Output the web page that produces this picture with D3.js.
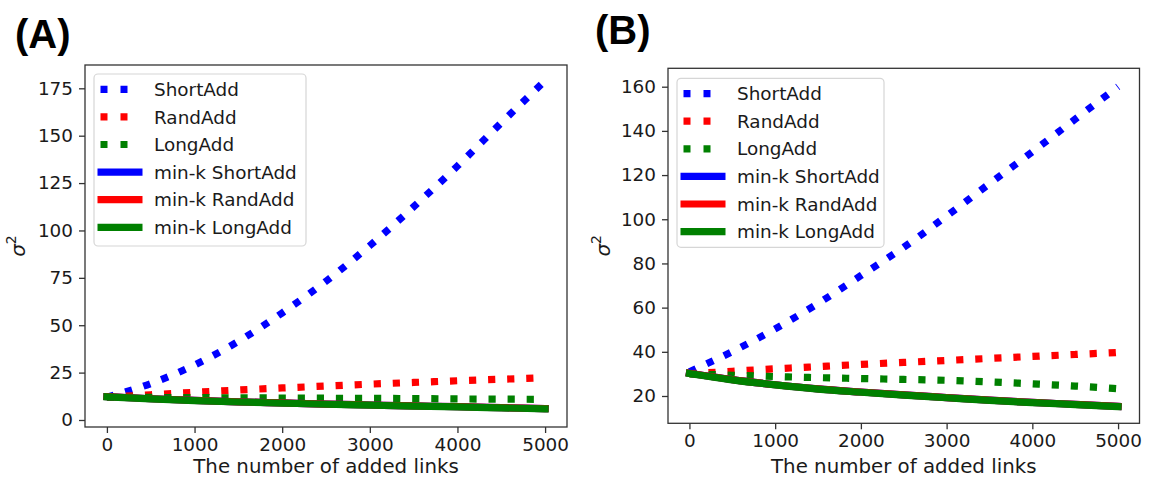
<!DOCTYPE html>
<html><head><meta charset="utf-8">
<script src="https://cdn.jsdelivr.net/npm/d3@7"></script>
<style>body{margin:0;background:#fff}svg{display:block}</style>
</head><body><svg id="c" width="1150" height="481"></svg>
<script>
// ---- data ----
const xValues = [0, 500, 1000, 1500, 2000, 2500, 3000, 3500, 4000, 4500, 5000];
const xTicks = [0, 1000, 2000, 3000, 4000, 5000];
const seriesNames = ["ShortAdd", "RandAdd", "LongAdd", "min-k ShortAdd", "min-k RandAdd", "min-k LongAdd"];
const seriesColors = ["#0000ff", "#ff0000", "#008000", "#0000ff", "#ff0000", "#008000"];
const seriesDotted = [true, true, true, false, false, false];

// Panel A
const aShortAdd = [12, 19.2, 29, 41.5, 56.5, 73.2, 92, 112.5, 134, 156.8, 179];
const aRandAdd = [12, 13.3, 14.6, 15.8, 16.9, 17.9, 18.9, 19.8, 20.7, 21.5, 22.3];
const aLongAdd = [12, 11.9, 11.8, 11.7, 11.6, 11.5, 11.4, 11.3, 11.1, 11.0, 10.9];
const aMinKShortAdd = [12.3, 11.2, 10.3, 9.6, 9.0, 8.4, 7.9, 7.4, 7.0, 6.5, 6.0];
const aMinKRandAdd = [12.3, 11.2, 10.3, 9.6, 9.0, 8.4, 7.9, 7.4, 7.0, 6.5, 6.0];
const aMinKLongAdd = [12.2, 11.1, 10.2, 9.5, 8.9, 8.3, 7.8, 7.3, 6.9, 6.4, 5.9];
const aYTicks = [0, 25, 50, 75, 100, 125, 150, 175];

// Panel B
const bShortAdd = [31, 40.1, 50.4, 61.9, 74.5, 87.3, 101.5, 116.1, 130.5, 145.3, 160];
const bRandAdd = [30, 31.2, 32.3, 33.3, 34.3, 35.2, 36.1, 37.0, 37.9, 38.8, 39.7];
const bLongAdd = [30, 29.4, 28.8, 28.3, 27.9, 27.5, 27.1, 26.4, 25.5, 24.5, 23.3];
const bMinKShortAdd = [30.3, 27.4, 25.1, 23.2, 21.8, 20.5, 19.3, 18.1, 17.1, 16.2, 15.3];
const bMinKRandAdd = [30.3, 27.4, 25.1, 23.2, 21.8, 20.5, 19.3, 18.1, 17.1, 16.2, 15.3];
const bMinKLongAdd = [30.2, 27.3, 25.0, 23.1, 21.7, 20.4, 19.2, 18.0, 17.0, 16.1, 15.2];
const bYTicks = [20, 40, 60, 80, 100, 120, 140, 160];

const xLabel = "The number of added links";

// ---- drawing ----
const svg = d3.select("#c");
svg.append("rect").attr("width", 1150).attr("height", 481).attr("fill", "#fff");

const panels = [
  { tag: "(A)", tagX: 15, tagY: 48, frame: { l: 85, r: 567, t: 65, b: 427 },
    yDomain: [-3.7, 187.3], yTicks: aYTicks, yLabelX: 18,
    series: [aShortAdd, aRandAdd, aLongAdd, aMinKShortAdd, aMinKRandAdd, aMinKLongAdd],
    legend: { x: 94, y: 74, w: 212, h: 172 } },
  { tag: "(B)", tagX: 595, tagY: 44, frame: { l: 668, r: 1139.5, t: 68.3, b: 423.3 },
    yDomain: [7.64, 168.33], yTicks: bYTicks, yLabelX: 603,
    series: [bShortAdd, bRandAdd, bLongAdd, bMinKShortAdd, bMinKRandAdd, bMinKLongAdd],
    legend: { x: 677, y: 78.3, w: 207, h: 169 } }
];

const tickFont = "DejaVu Sans, sans-serif";
const LW = 7.2;

panels.forEach((p, pi) => {
  const f = p.frame;
  const x = d3.scaleLinear().domain([-250, 5250]).range([f.l, f.r]);
  const y = d3.scaleLinear().domain(p.yDomain).range([f.b, f.t]);
  const g = svg.append("g");

  // panel tag
  g.append("text").attr("x", p.tagX).attr("y", p.tagY)
    .attr("font-family", "Liberation Sans, Arial, sans-serif").attr("font-weight", "bold")
    .attr("font-size", 40).attr("fill", "#000").text(p.tag);

  const clipId = "clip" + pi;
  svg.append("clipPath").attr("id", clipId).append("rect")
    .attr("x", f.l).attr("y", f.t).attr("width", f.r - f.l).attr("height", f.b - f.t);

  const line = d3.line().x((d, i) => x(xValues[i])).y(d => y(d)).curve(d3.curveMonotoneX);
  const lines = g.append("g").attr("clip-path", `url(#${clipId})`);
  p.series.forEach((s, i) => {
    const path = lines.append("path").datum(s).attr("d", line)
      .attr("fill", "none").attr("stroke", seriesColors[i]).attr("stroke-width", LW);
    if (seriesDotted[i]) {
      path.attr("stroke-dasharray", `${LW},${(LW * 1.65).toFixed(2)}`).attr("stroke-linecap", "butt");
    } else {
      path.attr("stroke-linecap", "square").attr("stroke-linejoin", "round");
    }
  });

  // axes
  const xAxis = d3.axisBottom(x).tickValues(xTicks).tickSize(6).tickPadding(5).tickFormat(d3.format("d"));
  const yAxis = d3.axisLeft(y).tickValues(p.yTicks).tickSize(6).tickPadding(6).tickFormat(d3.format("d"));
  const gx = g.append("g").attr("transform", `translate(0,${f.b})`).call(xAxis);
  const gy = g.append("g").attr("transform", `translate(${f.l},0)`).call(yAxis);
  [gx, gy].forEach(ax => {
    ax.select(".domain").remove();
    ax.selectAll("line").attr("stroke", "#333").attr("stroke-width", 1.3);
    ax.selectAll("text").attr("font-family", tickFont).attr("font-size", 18.4).attr("fill", "#1a1a1a");
  });

  // frame
  g.append("rect").attr("x", f.l).attr("y", f.t).attr("width", f.r - f.l).attr("height", f.b - f.t)
    .attr("fill", "none").attr("stroke", "#333").attr("stroke-width", 1.3);

  // x label
  g.append("text").attr("x", (f.l + f.r) / 2).attr("y", 473)
    .attr("text-anchor", "middle").attr("font-family", tickFont).attr("font-size", 19.8)
    .attr("fill", "#1a1a1a").text(xLabel);

  // y label sigma^2
  const cy = (f.t + f.b) / 2;
  const yl = g.append("text").attr("transform", `translate(${p.yLabelX + 7},${cy}) rotate(-90)`)
    .attr("text-anchor", "middle").attr("font-family", tickFont).attr("font-size", 20).attr("fill", "#1a1a1a");
  yl.append("tspan").attr("font-style", "italic").text("σ");
  yl.append("tspan").attr("font-size", 14).attr("dy", -9).text("2");

  // legend
  const L = p.legend;
  const lg = g.append("g");
  lg.append("rect").attr("x", L.x).attr("y", L.y).attr("width", L.w).attr("height", L.h)
    .attr("rx", 4).attr("fill", "#fff").attr("fill-opacity", 0.85).attr("stroke", "#d6d6d6").attr("stroke-width", 1.2);
  seriesNames.forEach((name, i) => {
    const ry = L.y + 15.3 + i * 27.6;
    if (seriesDotted[i]) {
      lg.append("line").attr("x1", L.x + 6.5).attr("x2", L.x + 33.5).attr("y1", ry).attr("y2", ry)
        .attr("stroke", seriesColors[i]).attr("stroke-width", LW).attr("stroke-dasharray", "7,13");
    } else {
      lg.append("line").attr("x1", L.x + 3.5).attr("x2", L.x + 48.5).attr("y1", ry).attr("y2", ry)
        .attr("stroke", seriesColors[i]).attr("stroke-width", LW);
    }
    lg.append("text").attr("x", L.x + 60).attr("y", ry).attr("dy", "0.36em")
      .attr("font-family", tickFont).attr("font-size", 18.4).attr("fill", "#1a1a1a").text(name);
  });
});
</script></body></html>
